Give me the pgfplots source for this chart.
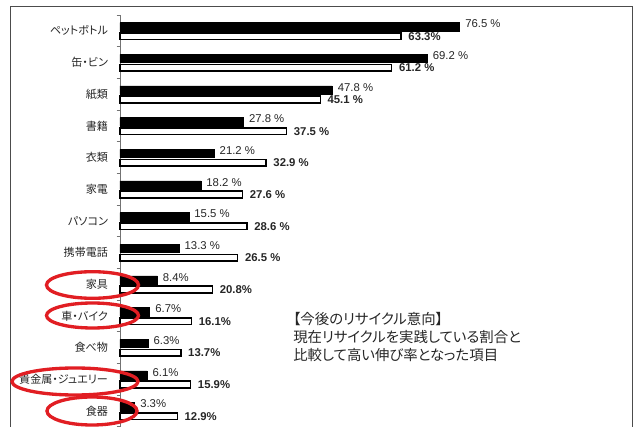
\documentclass[border=0pt]{standalone}
\usepackage{pgfplots}
\pgfplotsset{compat=1.18}
\usepackage{fontspec}
\setmainfont{Liberation Sans}
\newfontfamily\cjk[RawFeature=+palt]{Noto Sans CJK JP}
\definecolor{ered}{RGB}{225,30,35}
\begin{document}
\begin{tikzpicture}[x=0.75pt,y=0.75pt]
\useasboundingbox (0,0) rectangle (640,426);
\draw[black!70, line width=0.75pt] (10,-2) -- (10,419) -- (632,419) -- (632,-2);
\begin{axis}[
 at={(90pt,308.25pt)}, anchor=north west,
 scale only axis, width=333pt, height=308.75pt,
 xmin=0, xmax=100, ymin=-0.5, ymax=12.5, y dir=reverse,
 axis x line=none, axis y line*=left,
 axis line style={black!55, line width=0.6pt},
 xtick=\empty,
 ytick={0,...,12},
 yticklabels={ペットボトル,缶・ビン,紙類,書籍,衣類,家電,パソコン,携帯電話,家具,車・バイク,食べ物,貴金属・ジュエリー,食器},
 minor ytick={-0.5,0.5,...,12.5},
 major tick length=0pt, minor tick length=2.6pt, tick align=outside,
 minor tick style={black!55,line width=0.6pt},
 yticklabel style={font=\cjk\fontsize{8.3}{8.3}\selectfont, text=black!85, xshift=-5.5pt},
 xbar,
 point meta=explicit symbolic,
 nodes near coords,
 clip=false,
]
\addplot[fill=black, draw=black, bar width=6.3pt, bar shift=3pt,
 nodes near coords style={anchor=west, inner sep=1pt, font=\fontsize{8.5}{8.5}\selectfont, text=black!85, xshift=3pt, yshift=2.3pt}]
 coordinates {
 (76.5,0) [76.5 \%]
 (69.2,1) [69.2 \%]
 (47.8,2) [47.8 \%]
 (27.8,3) [27.8 \%]
 (21.2,4) [21.2 \%]
 (18.2,5) [18.2 \%]
 (15.5,6) [15.5 \%]
 (13.3,7) [13.3 \%]
 (8.4,8) [8.4\%]
 (6.7,9) [6.7\%]
 (6.3,10) [6.3\%]
 (6.1,11) [6.1\%]
 (3.3,12) [3.3\%]
 };
\addplot[fill=white, draw=black, line width=1.1pt, bar width=5pt, bar shift=-4pt,
 nodes near coords style={anchor=west, inner sep=1pt, font=\bfseries\fontsize{8.5}{8.5}\selectfont, text=black!85, xshift=4pt}]
 coordinates {
 (63.3,0) [63.3\%]
 (61.2,1) [61.2 \%]
 (45.1,2) [45.1 \%]
 (37.5,3) [37.5 \%]
 (32.9,4) [32.9 \%]
 (27.6,5) [27.6 \%]
 (28.6,6) [28.6 \%]
 (26.5,7) [26.5 \%]
 (20.8,8) [20.8\%]
 (16.1,9) [16.1\%]
 (13.7,10) [13.7\%]
 (15.9,11) [15.9\%]
 (12.9,12) [12.9\%]
 };
\end{axis}
\begin{scope}[ered, line width=2.5pt]
\draw (92.5,141) ellipse [x radius=46, y radius=13.3];
\draw (92.5,110.5) ellipse [x radius=46, y radius=12.5];
\draw (75,44.5) ellipse [x radius=63, y radius=13.5];
\draw (92,15) ellipse [x radius=45, y radius=14];
\end{scope}
\node[anchor=north west, inner sep=0pt, align=left, text=black!85,
 font=\cjk\fontsize{10.8}{13.5}\selectfont] at (293,114)
 {【今後のリサイクル意向】\\現在リサイクルを実践している割合と\\比較して高い伸び率となった項目};
\end{tikzpicture}
\end{document}
